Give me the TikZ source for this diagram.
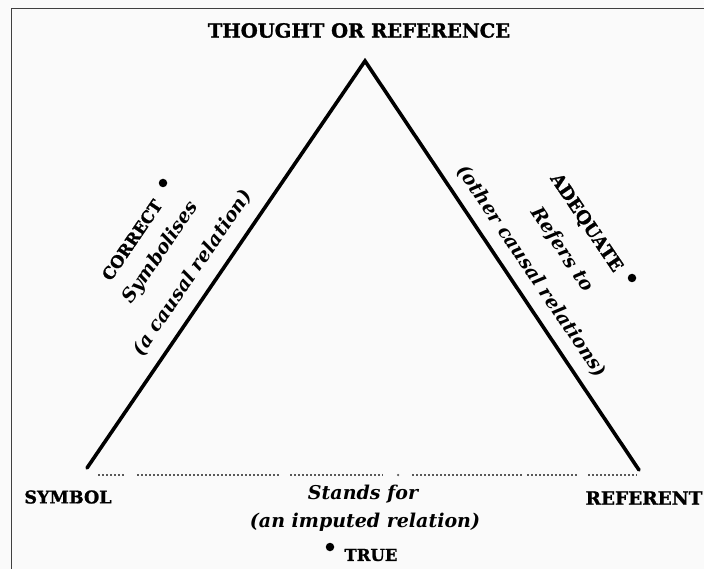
\documentclass[tikz,border=0pt]{standalone}
\usepackage{fontspec}
\setmainfont{DejaVu Serif}
\newfontfamily\capsfont{DejaVu Serif}[UprightFont=* Bold, FakeBold=1.3]
\begin{document}
\begin{tikzpicture}[x=1pt,y=-1pt,
  edge/.style={line width=3.6pt, line cap=round, line join=miter},
  frameline/.style={line width=1.6pt, black!75},
  capl/.style={inner sep=0pt, font=\capsfont\fontsize{#1}{#1}\selectfont},
  ital/.style={inner sep=0pt, font=\bfseries\itshape\fontsize{19}{20}\selectfont},
  dotmark/.style={circle, fill=black, inner sep=0pt, minimum size=8.5pt},
  basedots/.style={black!65, line width=1.6pt, dash pattern=on 1.5pt off 2.5pt}
]
\useasboundingbox (0,0) rectangle (704,569);
\fill[black!2] (0,0) rectangle (704,569);
% frame
\coordinate (fb) at (11.5,569);
\coordinate (fc) at (11.5,8.5);
\coordinate (fr) at (704,8.5);
\draw[frameline] (fb) -- (fc) -- (fr);

% triangle corners
\coordinate (A) at (365,61);
\coordinate (L) at (87,468);
\coordinate (R) at (639,470);
\draw[edge] (L) -- (A) -- (R);

% dotted base line (imputed relation)
\foreach \a/\b in {98/125, 137/280, 290/383, 412/523, 527/578, 588/637}{
  \coordinate (d1) at (\a,475);
  \coordinate (d2) at (\b,475);
  \draw[basedots] (d1) -- (d2);
}
\node[circle, fill=black!65, inner sep=0pt, minimum size=2.5pt] (dd) at (398,475) {};

% corner labels
\node[capl=19.5] (thought) at (359,30.5) {THOUGHT OR REFERENCE};
\node[capl=17.5] (symbol) at (68,497) {SYMBOL};
\node[capl=18.5] (referent) at (644,498) {REFERENT};

% left side
\node[ital, rotate=55.7] (causal) at (192.5,273) {(a causal relation)};
\node[ital, rotate=55.7] (symbolises) at (161,253) {Symbolises};
\node[capl=16.5, rotate=55.7] (correct) at (132,240) {CORRECT};
\node[dotmark] (cdot) at (163,183) {};

% right side
\node[ital, rotate=-56] (other) at (531.5,271.5) {(other causal relations)};
\node[ital, rotate=-56] (refers) at (562,250) {Refers to};
\node[capl=18, rotate=-56] (adequate) at (586,223) {ADEQUATE};
\node[dotmark] (adot) at (632,278) {};

% bottom
\node[ital] (stands) at (363,494) {Stands for};
\node[ital] (imputed) at (365,522) {(an imputed relation)};
\node[dotmark] (tdot) at (330,547) {};
\node[capl=16.5] (true) at (371,555) {TRUE};
\end{tikzpicture}
\end{document}
